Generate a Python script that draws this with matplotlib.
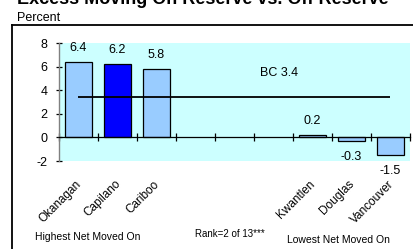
import matplotlib
matplotlib.use("Agg")
import matplotlib.pyplot as plt
import matplotlib.transforms as mtransforms
from matplotlib.lines import Line2D

# ---- data ----
categories = ["Okanagan", "Capilano", "Cariboo", "", "", "", "Kwantlen", "Douglas", "Vancouver"]
values = [6.4, 6.2, 5.8, None, None, None, 0.2, -0.3, -1.5]
highlight = "Capilano"
bc_value = 3.4
yticks = [-2, 0, 2, 4, 6, 8]

title = "Excess Moving On Reserve vs. Off Reserve"
ylabel = "Percent"
left_note = "Highest Net Moved On"
mid_note = "Rank=2 of 13***"
right_note = "Lowest Net Moved On"

plt.rcParams['font.family'] = ['Liberation Sans', 'DejaVu Sans']

W, H = 414, 249
fig = plt.figure(figsize=(W / 100, H / 100), dpi=100)

ax = fig.add_axes([59 / W, 1 - 161 / H, (410 - 59) / W, (161 - 43) / H])
ax.set_facecolor('#CCFFFF')

for i, (c, v) in enumerate(zip(categories, values)):
    if v is None:
        continue
    color = '#0000FF' if c == highlight else '#99CCFF'
    ax.bar(i, v, width=0.67, color=color, edgecolor='black', linewidth=0.9, zorder=3)
    if v >= 0:
        ax.annotate(f"{v:.1f}", (i, v), xytext=(0, 6), textcoords='offset points',
                    ha='center', va='bottom', fontsize=9, zorder=5)
    else:
        ax.annotate(f"{v:.1f}", (i, v), xytext=(0, -7), textcoords='offset points',
                    ha='center', va='top', fontsize=9, zorder=5)

# BC average line
ax.hlines(bc_value, 0, len(categories) - 1, colors='black', linewidth=1.3, zorder=4)
ax.text(5.15, bc_value + 2.1, f"BC {bc_value}", ha='center', va='center', fontsize=9)

ax.set_xlim(-0.5, len(categories) - 0.5)
ax.set_ylim(-2, 8)
ax.set_yticks(yticks)
ax.set_yticklabels([str(t) for t in yticks], fontsize=9)

# x axis at zero with boundary ticks
ax.spines['bottom'].set_position(('data', 0))
ax.spines['bottom'].set_color('black')
ax.spines['bottom'].set_linewidth(0.9)
ax.spines['bottom'].set_zorder(4)
ax.set_xticks([i - 0.5 for i in range(len(categories) + 1)])
ax.set_xticklabels([])
ax.tick_params(axis='x', direction='inout', length=6, width=0.9, color='black')
ax.tick_params(axis='y', direction='inout', length=5, width=0.9, color='black', pad=6)
for s in ['top', 'right']:
    ax.spines[s].set_visible(False)
ax.spines['left'].set_color('#808080')
ax.spines['left'].set_linewidth(1.0)

# category labels
trans = mtransforms.blended_transform_factory(ax.transData, ax.transAxes)
for i, c in enumerate(categories):
    if c:
        ax.text(i + 0.03, -0.18, c, transform=trans, rotation=45,
                rotation_mode='anchor', ha='right', va='center', fontsize=8.5)

# frame lines
fig.add_artist(Line2D([12.5 / W, 1.0], [1 - 25 / H, 1 - 25 / H], transform=fig.transFigure,
                      color='black', linewidth=1.3))
fig.add_artist(Line2D([12.5 / W, 12.5 / W], [1 - 25 / H, 0.0], transform=fig.transFigure,
                      color='black', linewidth=1.3))

# texts
fig.text(17 / W, 1 - 4 / H, title, fontsize=13, fontweight='bold', ha='left', va='baseline')
fig.text(17 / W, 1 - 21 / H, ylabel, fontsize=9, ha='left', va='baseline')
fig.text(35 / W, 1 - 237 / H, left_note, fontsize=7.5, ha='left', va='center')
fig.text(195 / W, 1 - 234 / H, mid_note, fontsize=7, ha='left', va='center')
fig.text(287 / W, 1 - 240 / H, right_note, fontsize=7.5, ha='left', va='center')

fig.savefig("out.png", dpi=100)
